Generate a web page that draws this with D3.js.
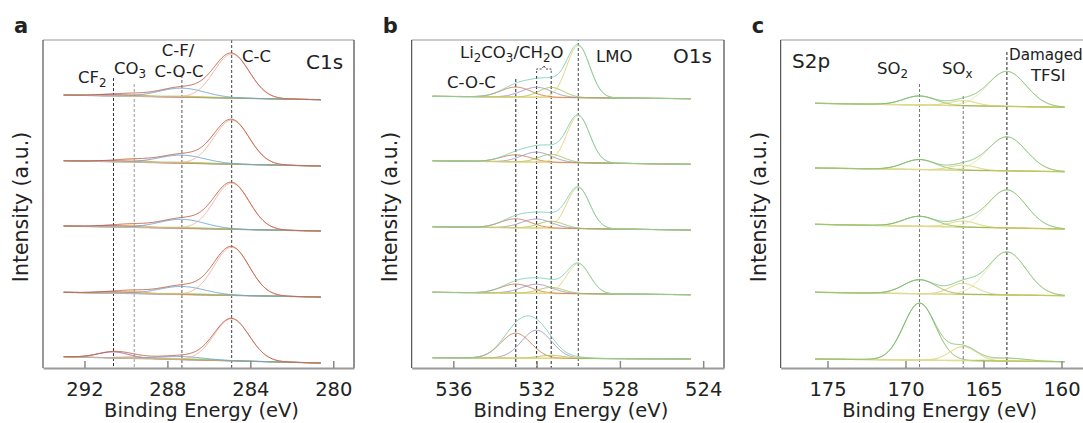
<!DOCTYPE html>
<html>
<head>
<meta charset="utf-8">
<script src="https://cdn.jsdelivr.net/npm/d3@7"></script>
<style>
  body { margin: 0; background: #fff; }
  text { font-family: "DejaVu Sans", sans-serif; fill: #222; }
</style>
</head>
<body>
<div id="chart"></div>
<script>
// ---- C1s (panel a) ----
let c1sCenters = [290.6, 289.6, 287.1, 287.3, 284.9];
let c1sFwhm = [1.8, 1.6, 3.0, 2.6, 2.0];
let c1sAmps = [
  [1.5, 1.5, 1, 9, 44],
  [1, 2, 1, 8, 44],
  [1.5, 2, 1, 9, 46],
  [1.5, 2, 1, 8, 48],
  [6, 1.5, 1, 3, 42],
];
let c1sOffsets = [268.3, 202, 137, 71, 5];
let c1sDrops = [4.7, 5.3, 5, 4.7, 6.3];
let c1sRange = [293.0, 280.6];
let c1sTicks = [292, 288, 284, 280];

// ---- O1s (panel b) ----
let o1sCenters = [533.0, 532.0, 531.3, 530.0];
let o1sFwhm = [1.7, 1.7, 1.4, 1.3];
let o1sAmps = [
  [10, 10, 10, 52],
  [7, 10, 8, 47],
  [9, 9, 7, 41],
  [9, 9, 6, 30],
  [25, 28, 3, 1],
];
let o1sOffsets = [269.3, 203.7, 138, 73.3, 9];
let o1sDrops = [2.4, 3.6, 3.3, 2.4, 1.3];
let o1sRange = [537.0, 524.6];
let o1sTicks = [536, 532, 528, 524];

// ---- S2p (panel c) ----
let s2pCenters = [169.1, 166.3, 163.5];
let s2pFwhm = [2.4, 2.0, 2.9];
let s2pAmps = [
  [9, 5, 35],
  [10, 5, 34],
  [10, 6, 38],
  [14, 11, 43],
  [57, 14, 3],
];
let s2pOffsets = [260.7, 196.3, 139, 72.3, 6.3];
let s2pDrops = [4, 3.7, 4.7, 3.4, 2.7];
let s2pRange = [175.8, 159.8];
let s2pTicks = [175, 170, 165, 160];

const W = 1083, H = 423;
const plotTop = 40, plotBottom = 368;

let svg = d3.select('#chart').append('svg')
  .attr('width', W)
  .attr('height', H);

// intensity in a.u., stacked spectra share one scale
let y = d3.scaleLinear().domain([0, 328]).range([plotBottom, plotTop]);

function gauss(e, c, fwhm) {
  let s = fwhm / 2.3548;
  return Math.exp(-0.5 * ((e - c) / s) ** 2);
}

// text with sub-scripts: parts = [[text, isSub], ...]
function label(g, x, yPos, parts, size, anchor) {
  let t = g.append('text')
    .attr('x', x)
    .attr('y', yPos)
    .attr('font-size', size)
    .attr('text-anchor', anchor || 'start');
  let dyAcc = 0;
  parts.forEach(p => {
    let want = p[1] ? 4 : 0;
    let span = t.append('tspan').attr('dy', want - dyAcc).text(p[0]);
    if (p[1]) span.attr('font-size', size * 0.72);
    dyAcc = want;
  });
  return t;
}

function drawPanel(cfg) {
  let g = svg.append('g');
  let x = d3.scaleLinear().domain(cfg.domain).range([cfg.x0, cfg.x1]);

  let clipId = 'clip-' + cfg.letter;
  svg.append('clipPath').attr('id', clipId)
    .append('rect')
    .attr('x', cfg.x0).attr('y', plotTop)
    .attr('width', cfg.x1 - cfg.x0).attr('height', plotBottom - plotTop);

  let plot = g.append('g').attr('clip-path', `url(#${clipId})`);

  // dashed marker lines at the peak positions
  cfg.centers.forEach((c, i) => {
    if (cfg.dashTops[i] == null) return;
    plot.append('line')
      .attr('x1', x(c)).attr('x2', x(c))
      .attr('y1', cfg.dashTops[i]).attr('y2', plotBottom)
      .attr('stroke', cfg.dashColors[i])
      .attr('stroke-width', 1)
      .attr('stroke-dasharray', '3,2');
  });

  let energies = d3.range(cfg.range[0], cfg.range[1] - 0.001, -0.04);
  let line = d3.line()
    .x(d => x(d[0]))
    .y(d => y(d[1]));

  cfg.amps.forEach((amps, k) => {
    let off = cfg.offsets[k];
    let drop = cfg.drops[k];
    let bg = e => off + drop * (e - cfg.range[1]) / (cfg.range[0] - cfg.range[1]);

    // background
    plot.append('path')
      .attr('d', line(energies.map(e => [e, bg(e)])))
      .attr('fill', 'none')
      .attr('stroke', cfg.bgColor)
      .attr('stroke-width', 1.4);

    // fitted components
    amps.forEach((a, i) => {
      let pts = energies.map(e => [e, bg(e) + a * gauss(e, cfg.centers[i], cfg.fwhm[i])]);
      plot.append('path')
        .attr('d', line(pts))
        .attr('fill', 'none')
        .attr('stroke', cfg.colors[i])
        .attr('stroke-opacity', 0.9)
        .attr('stroke-width', 1);
    });

    // envelope
    let env = energies.map(e => {
      let s = d3.sum(amps, (a, i) => a * gauss(e, cfg.centers[i], cfg.fwhm[i]));
      return [e, bg(e) + s];
    });
    plot.append('path')
      .attr('d', line(env))
      .attr('fill', 'none')
      .attr('stroke', cfg.envColor)
      .attr('stroke-opacity', 0.85)
      .attr('stroke-width', 1);
  });

  // frame
  g.append('line').attr('x1', cfg.x0).attr('x2', cfg.x1).attr('y1', plotTop).attr('y2', plotTop)
    .attr('stroke', '#999').attr('stroke-width', 1);
  g.append('line').attr('x1', cfg.x0).attr('x2', cfg.x0).attr('y1', plotTop).attr('y2', plotBottom)
    .attr('stroke', '#333').attr('stroke-width', 1);
  g.append('line').attr('x1', cfg.x1).attr('x2', cfg.x1).attr('y1', plotTop).attr('y2', plotBottom)
    .attr('stroke', '#222').attr('stroke-width', 1);

  // x axis, ticks pointing inward
  let axis = g.append('g').attr('transform', `translate(0,${plotBottom})`)
    .call(d3.axisBottom(x).tickValues(cfg.ticks).tickSizeInner(-7).tickSizeOuter(0).tickPadding(14));
  axis.select('.domain').attr('stroke', '#9a9a9a').attr('stroke-width', 2);
  axis.selectAll('.tick line').attr('stroke', '#888').attr('stroke-width', 1.5);
  axis.selectAll('.tick text')
    .attr('font-size', 19.5)
    .attr('font-family', '"DejaVu Sans", sans-serif')
    .attr('fill', '#222');

  g.append('text')
    .attr('x', (cfg.x0 + Math.min(cfg.x1, W + 10)) / 2 + 3)
    .attr('y', 417)
    .attr('text-anchor', 'middle')
    .attr('font-size', 19.5)
    .text('Binding Energy (eV)');

  g.append('text')
    .attr('transform', `translate(${cfg.x0 - 15},207) rotate(-90)`)
    .attr('text-anchor', 'middle')
    .attr('font-size', 20.5)
    .text('Intensity (a.u.)');

  g.append('text')
    .attr('x', cfg.x0 - 29)
    .attr('y', 33)
    .attr('font-size', 21)
    .attr('font-weight', 'bold')
    .text(cfg.letter);

  cfg.labels.forEach(l => label(g, l.x, l.y, l.parts, l.size || 16.5, l.anchor));

  if (cfg.extra) cfg.extra(g, x);
}

drawPanel({
  letter: 'a',
  x0: 43, x1: 354, domain: [294, 279],
  ticks: c1sTicks, range: c1sRange,
  centers: c1sCenters, fwhm: c1sFwhm, amps: c1sAmps,
  offsets: c1sOffsets, drops: c1sDrops,
  colors: ['#a05a9c', '#f29b38', '#8fd45a', '#6a9fd4', '#eeb09a'],
  envColor: '#b8553a', bgColor: '#a9cfe8',
  dashTops: [78, 84, null, 75, 40],
  dashColors: ['#333', '#999', null, '#555', '#444'],
  labels: [
    { x: 78, y: 83, parts: [['CF'], ['2', true]] },
    { x: 114, y: 74, parts: [['CO'], ['3', true]] },
    { x: 178, y: 56, parts: [['C-F/']], anchor: 'middle' },
    { x: 179, y: 77, parts: [['C-O-C']], anchor: 'middle' },
    { x: 242, y: 62, parts: [['C-C']] },
    { x: 306, y: 69, parts: [['C1s']], size: 20 },
  ],
});

drawPanel({
  letter: 'b',
  x0: 411.7, x1: 724, domain: [538, 523],
  ticks: o1sTicks, range: o1sRange,
  centers: o1sCenters, fwhm: o1sFwhm, amps: o1sAmps,
  offsets: o1sOffsets, drops: o1sDrops,
  colors: ['#d0784a', '#9d94c4', '#9cc452', '#e2d270'],
  envColor: '#72ccb4', bgColor: '#ecdc9c',
  dashTops: [79, 76, 76, 38],
  dashColors: ['#222', '#222', '#222', '#444'],
  labels: [
    { x: 460, y: 58, parts: [['Li'], ['2', true], ['CO'], ['3', true], ['/CH'], ['2', true], ['O']] },
    { x: 447, y: 88, parts: [['C-O-C']] },
    { x: 596, y: 62, parts: [['LMO']] },
    { x: 673, y: 63, parts: [['O1s']], size: 20 },
  ],
  extra: (g, x) => {
    // bracket over the two overlapping positions
    let xa = x(532.0), xb = x(531.3), xm = (xa + xb) / 2;
    g.append('path')
      .attr('d', `M${xa},73 V69 H${xm - 2} L${xm},65.5 L${xm + 2},69 H${xb} V73`)
      .attr('fill', 'none')
      .attr('stroke', '#444')
      .attr('stroke-width', 1)
      .attr('stroke-dasharray', '2,1.5');
  },
});

drawPanel({
  letter: 'c',
  x0: 780.7, x1: 1092.7, domain: [178, 158],
  ticks: s2pTicks, range: s2pRange,
  centers: s2pCenters, fwhm: s2pFwhm, amps: s2pAmps,
  offsets: s2pOffsets, drops: s2pDrops,
  colors: ['#7fb552', '#d9cd5e', '#e6e3a6'],
  envColor: '#72bd72', bgColor: '#d6d27c',
  dashTops: [84, 96, 52],
  dashColors: ['#777', '#777', '#222'],
  labels: [
    { x: 792, y: 68, parts: [['S2p']], size: 20 },
    { x: 877, y: 74, parts: [['SO'], ['2', true]] },
    { x: 942, y: 74, parts: [['SO'], ['x', true]] },
    { x: 1009, y: 60, parts: [['Damaged']], size: 15.2 },
    { x: 1031, y: 81, parts: [['TFSI']] },
  ],
});
</script>
</body>
</html>
